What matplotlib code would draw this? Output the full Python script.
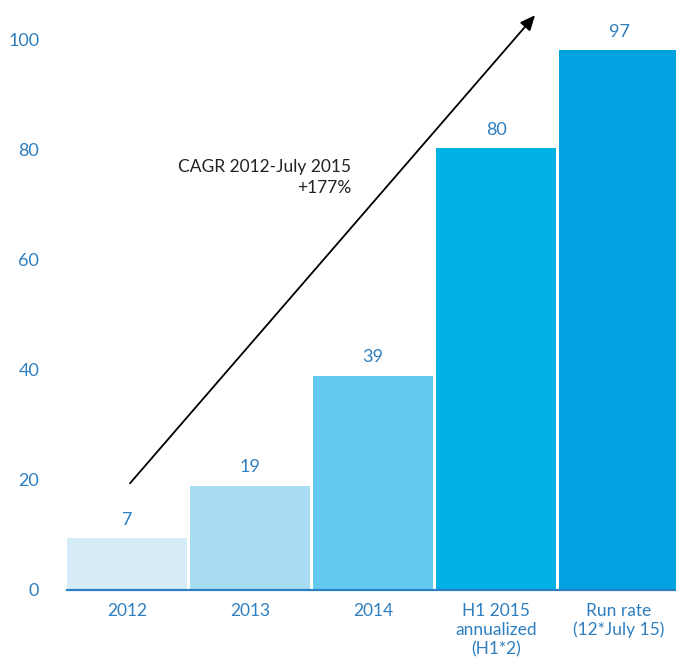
import matplotlib
matplotlib.use('Agg')
import matplotlib.pyplot as plt

categories = ['2012', '2013', '2014', 'H1 2015\nannualized\n(H1*2)', 'Run rate\n(12*July 15)']
bar_heights = [9.5, 19, 39, 80.4, 98.2]
value_labels = ['7', '19', '39', '80', '97']
bar_colors = ['#d6edf9', '#a7dcf3', '#63c9ef', '#00b2e6', '#00a3df']
y_ticks = [0, 20, 40, 60, 80, 100]

blue_text = '#2e7fc0'
plt.rcParams['font.family'] = ['Lato', 'DejaVu Sans']

fig = plt.figure(figsize=(6.76, 6.62), dpi=100)
ax = fig.add_axes([67 / 676, 72 / 662, 609 / 676, 577.5 / 662])

x = list(range(len(categories)))
ax.bar(x, bar_heights, width=0.976, color=bar_colors, zorder=2)

for xi, h, lab in zip(x, bar_heights, value_labels):
    ax.text(xi, h + 3.3, lab, ha='center', va='center', fontsize=13, color=blue_text)

ax.set_xlim(-0.488, 4.463)
ax.set_ylim(0, 105)
ax.set_yticks(y_ticks)
ax.set_yticklabels([str(t) for t in y_ticks], fontsize=13, color=blue_text)
ax.set_xticks(x)
ax.set_xticklabels(categories, fontsize=12.5, color=blue_text, linespacing=1.25, va='top')
ax.tick_params(axis='y', length=0, pad=20)
ax.tick_params(axis='x', length=0, pad=9)

for side in ['top', 'right', 'left']:
    ax.spines[side].set_visible(False)
ax.spines['bottom'].set_color('#2b80c2')
ax.spines['bottom'].set_linewidth(1.6)
ax.spines['bottom'].set_zorder(3)

# CAGR arrow
ax.annotate('', xy=(3.317, 104.5), xytext=(0.024, 19.4),
            arrowprops=dict(arrowstyle='-|>,head_length=0.9,head_width=0.4',
                            color='black', lw=1.3, shrinkA=0, shrinkB=0),
            annotation_clip=False, zorder=4)
ax.text(1.82, 75, 'CAGR 2012-July 2015\n+177%', ha='right', va='center',
        fontsize=12.5, color='#222222', linespacing=1.4)

plt.savefig('out.png', dpi=100)
plt.close()
